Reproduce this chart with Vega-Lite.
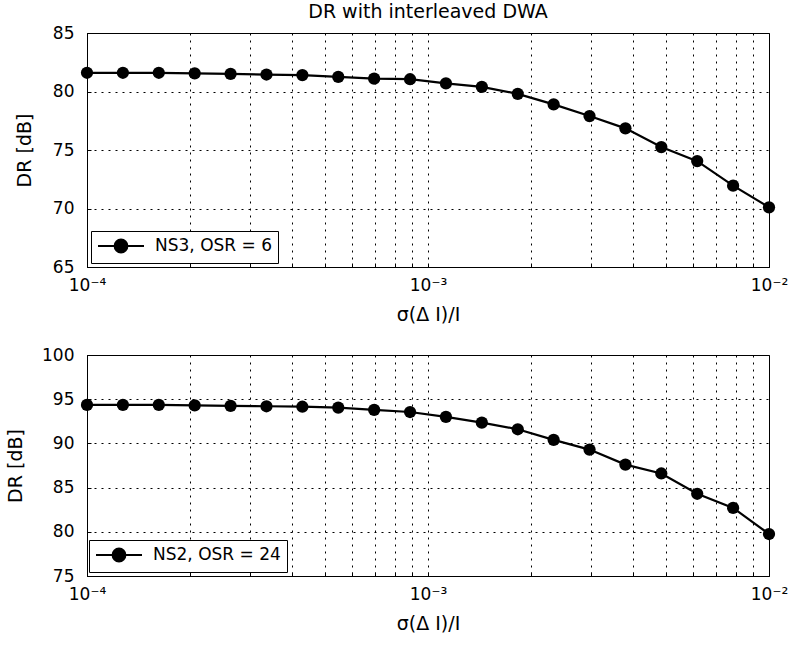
{
  "$schema": "https://vega.github.io/schema/vega-lite/v6.json",
  "padding": {"left": 6, "top": 2, "right": 3, "bottom": 2},
  "spacing": 20,
  "resolve": {"scale": {"color": "independent"}, "legend": {"color": "independent"}},
  "config": {
    "font": "DejaVu Sans",
    "view": {"stroke": "black", "strokeWidth": 1},
    "axis": {
      "labelFont": "DejaVu Sans", "labelFontSize": 17, "labelColor": "black",
      "titleFont": "DejaVu Sans", "titleFontSize": 19, "titleFontWeight": "normal", "titleColor": "black",
      "domainColor": "black", "ticks": true, "tickSize": -4, "tickColor": "black", "labelFlush": false,
      "grid": true, "gridColor": "black", "gridOpacity": 1, "gridDash": [2, 5], "gridWidth": 1
    },
    "title": {"font": "DejaVu Sans", "fontSize": 19, "fontWeight": "normal", "color": "black"},
    "legend": {
      "labelFont": "DejaVu Sans", "labelFontSize": 17, "labelColor": "black",
      "strokeColor": "black", "fillColor": "white", "cornerRadius": 0, "padding": 6,
      "symbolType": "M-1,0H4.75M1.075,0A0.8,0.8,0,1,1,2.675,0A0.8,0.8,0,1,1,1.075,0Z",
      "symbolSize": 256, "labelOffset": 40, "symbolStrokeWidth": 2,
      "symbolFillColor": "black", "symbolStrokeColor": "black"
    }
  },
  "vconcat": [
    {
      "title": {"text": "DR with interleaved DWA", "anchor": "middle", "frame": "group", "offset": 2},
      "width": 682,
      "height": 234,
      "data": {"values": [
        {"s": 0.0001, "dr": 81.6, "series": "NS3, OSR = 6"},
        {"s": 0.00012743, "dr": 81.6, "series": "NS3, OSR = 6"},
        {"s": 0.00016238, "dr": 81.6, "series": "NS3, OSR = 6"},
        {"s": 0.00020691, "dr": 81.55, "series": "NS3, OSR = 6"},
        {"s": 0.00026367, "dr": 81.5, "series": "NS3, OSR = 6"},
        {"s": 0.00033598, "dr": 81.45, "series": "NS3, OSR = 6"},
        {"s": 0.00042813, "dr": 81.4, "series": "NS3, OSR = 6"},
        {"s": 0.00054556, "dr": 81.25, "series": "NS3, OSR = 6"},
        {"s": 0.00069519, "dr": 81.1, "series": "NS3, OSR = 6"},
        {"s": 0.00088587, "dr": 81.05, "series": "NS3, OSR = 6"},
        {"s": 0.0011288, "dr": 80.7, "series": "NS3, OSR = 6"},
        {"s": 0.0014384, "dr": 80.4, "series": "NS3, OSR = 6"},
        {"s": 0.001833, "dr": 79.8, "series": "NS3, OSR = 6"},
        {"s": 0.0023357, "dr": 78.9, "series": "NS3, OSR = 6"},
        {"s": 0.0029764, "dr": 77.9, "series": "NS3, OSR = 6"},
        {"s": 0.0037927, "dr": 76.85, "series": "NS3, OSR = 6"},
        {"s": 0.0048329, "dr": 75.25, "series": "NS3, OSR = 6"},
        {"s": 0.0061585, "dr": 74.05, "series": "NS3, OSR = 6"},
        {"s": 0.0078476, "dr": 71.95, "series": "NS3, OSR = 6"},
        {"s": 0.01, "dr": 70.1, "series": "NS3, OSR = 6"}
      ]},
      "encoding": {
        "x": {
          "field": "s", "type": "quantitative",
          "scale": {"type": "log", "domain": [0.0001, 0.01]},
          "axis": {
            "title": "σ(Δ I)/I", "titlePadding": 12, "labelPadding": 14,
            "values": [0.0001, 0.0002, 0.0003, 0.0004, 0.0005, 0.0006, 0.0007, 0.0008, 0.0009, 0.001, 0.002, 0.003, 0.004, 0.005, 0.006, 0.007, 0.008, 0.009, 0.01],
            "labelExpr": "datum.value == 0.0001 ? '10⁻⁴' : datum.value == 0.001 ? '10⁻³' : datum.value == 0.01 ? '10⁻²' : ''",
            "labelOverlap": false
          }
        },
        "y": {
          "field": "dr", "type": "quantitative",
          "scale": {"domain": [65, 85], "nice": false, "zero": false},
          "axis": {"title": "DR [dB]", "values": [65, 70, 75, 80, 85], "labelPadding": 17, "titlePadding": 18}
        },
        "color": {
          "field": "series", "type": "nominal",
          "scale": {"range": ["black"]},
          "legend": {"title": null, "orient": "none", "legendX": 4, "legendY": 198}
        }
      },
      "layer": [
        {"mark": {"type": "line", "strokeWidth": 2.2}},
        {"mark": {"type": "point", "filled": true, "size": 150, "opacity": 1}}
      ]
    },
    {
      "width": 682,
      "height": 221,
      "data": {"values": [
        {"s": 0.0001, "dr": 94.35, "series": "NS2, OSR = 24"},
        {"s": 0.00012743, "dr": 94.35, "series": "NS2, OSR = 24"},
        {"s": 0.00016238, "dr": 94.35, "series": "NS2, OSR = 24"},
        {"s": 0.00020691, "dr": 94.3, "series": "NS2, OSR = 24"},
        {"s": 0.00026367, "dr": 94.25, "series": "NS2, OSR = 24"},
        {"s": 0.00033598, "dr": 94.2, "series": "NS2, OSR = 24"},
        {"s": 0.00042813, "dr": 94.15, "series": "NS2, OSR = 24"},
        {"s": 0.00054556, "dr": 94.05, "series": "NS2, OSR = 24"},
        {"s": 0.00069519, "dr": 93.8, "series": "NS2, OSR = 24"},
        {"s": 0.00088587, "dr": 93.55, "series": "NS2, OSR = 24"},
        {"s": 0.0011288, "dr": 93.0, "series": "NS2, OSR = 24"},
        {"s": 0.0014384, "dr": 92.35, "series": "NS2, OSR = 24"},
        {"s": 0.001833, "dr": 91.6, "series": "NS2, OSR = 24"},
        {"s": 0.0023357, "dr": 90.4, "series": "NS2, OSR = 24"},
        {"s": 0.0029764, "dr": 89.3, "series": "NS2, OSR = 24"},
        {"s": 0.0037927, "dr": 87.6, "series": "NS2, OSR = 24"},
        {"s": 0.0048329, "dr": 86.6, "series": "NS2, OSR = 24"},
        {"s": 0.0061585, "dr": 84.3, "series": "NS2, OSR = 24"},
        {"s": 0.0078476, "dr": 82.7, "series": "NS2, OSR = 24"},
        {"s": 0.01, "dr": 79.75, "series": "NS2, OSR = 24"}
      ]},
      "encoding": {
        "x": {
          "field": "s", "type": "quantitative",
          "scale": {"type": "log", "domain": [0.0001, 0.01]},
          "axis": {
            "title": "σ(Δ I)/I", "titlePadding": 12, "labelPadding": 14,
            "values": [0.0001, 0.0002, 0.0003, 0.0004, 0.0005, 0.0006, 0.0007, 0.0008, 0.0009, 0.001, 0.002, 0.003, 0.004, 0.005, 0.006, 0.007, 0.008, 0.009, 0.01],
            "labelExpr": "datum.value == 0.0001 ? '10⁻⁴' : datum.value == 0.001 ? '10⁻³' : datum.value == 0.01 ? '10⁻²' : ''",
            "labelOverlap": false
          }
        },
        "y": {
          "field": "dr", "type": "quantitative",
          "scale": {"domain": [75, 100], "nice": false, "zero": false},
          "axis": {"title": "DR [dB]", "values": [75, 80, 85, 90, 95, 100], "labelPadding": 17, "titlePadding": 16}
        },
        "color": {
          "field": "series", "type": "nominal",
          "scale": {"range": ["black"]},
          "legend": {"title": null, "orient": "none", "legendX": 2, "legendY": 185}
        }
      },
      "layer": [
        {"mark": {"type": "line", "strokeWidth": 2.2}},
        {"mark": {"type": "point", "filled": true, "size": 150, "opacity": 1}}
      ]
    }
  ]
}
